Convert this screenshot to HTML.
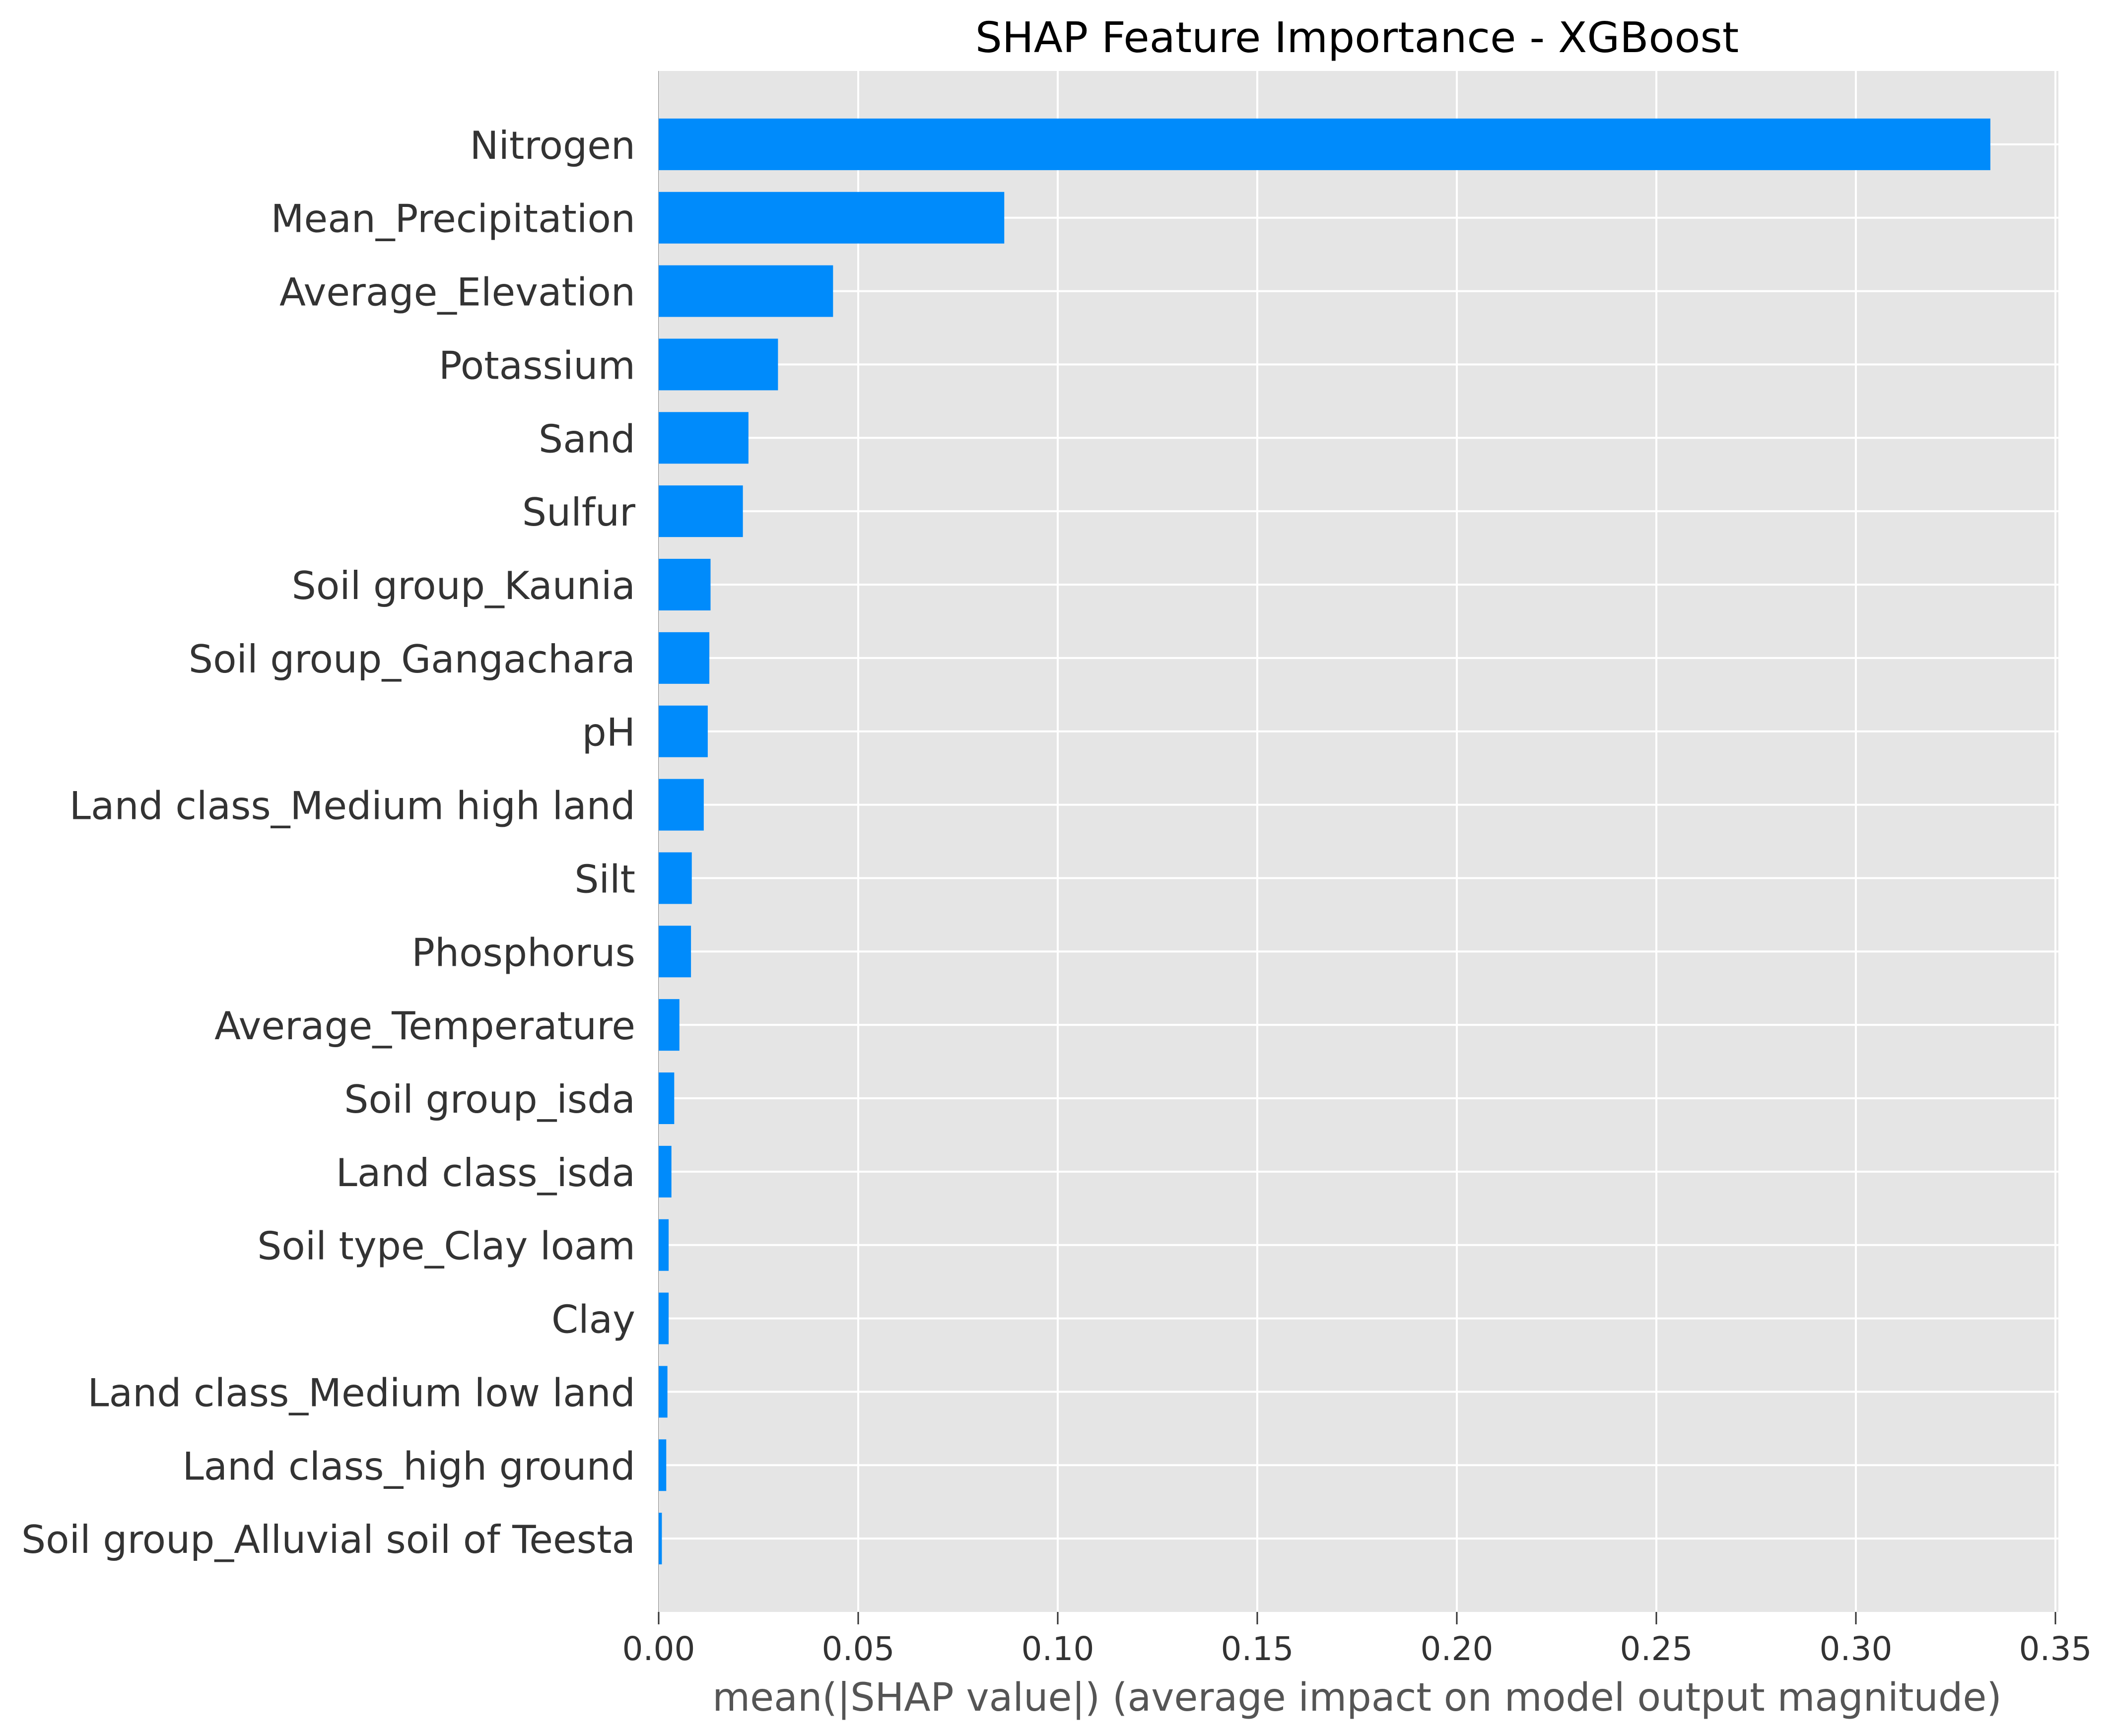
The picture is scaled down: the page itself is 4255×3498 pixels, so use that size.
<!DOCTYPE html>
<html><head><meta charset="utf-8"><style>
html,body{margin:0;padding:0;background:#fff;}
svg{display:block;}
text{font-family:"DejaVu Sans","Liberation Sans",sans-serif;}
</style></head><body>
<svg id="chart" width="4255" height="3498" viewBox="0 0 4255 3498" xmlns="http://www.w3.org/2000/svg">
<text x="2734" y="105" font-size="85" text-anchor="middle" fill="#000">SHAP Feature Importance - XGBoost</text>
<g id="plot"></g>
<text x="2734" y="3447" font-size="78" text-anchor="middle" fill="#555">mean(|SHAP value|) (average impact on model output magnitude)</text>
</svg>
<script>
const features = ["Nitrogen","Mean_Precipitation","Average_Elevation","Potassium","Sand","Sulfur","Soil group_Kaunia","Soil group_Gangachara","pH","Land class_Medium high land","Silt","Phosphorus","Average_Temperature","Soil group_isda","Land class_isda","Soil type_Clay loam","Clay","Land class_Medium low land","Land class_high ground","Soil group_Alluvial soil of Teesta"];
const shapValues = [0.3337,0.0866,0.0437,0.0299,0.0225,0.0211,0.0130,0.0127,0.0123,0.0113,0.0083,0.0081,0.0052,0.0039,0.0032,0.0025,0.0025,0.0022,0.0019,0.0008];
const xTicks = [0,0.05,0.10,0.15,0.20,0.25,0.30,0.35];
const xTickLabels = ["0.00","0.05","0.10","0.15","0.20","0.25","0.30","0.35"];

const NS = "http://www.w3.org/2000/svg";
const L = 1327, R = 4141, T = 143, B = 3248;
const xMax = 0.35;
const n = features.length;
const rowH = (B - T) / (n + 1);
const xScale = v => L + v / xMax * (R - L);
const yScale = i => T + rowH * (i + 1);
const g = document.getElementById('plot');
function mk(tag, attrs){const e=document.createElementNS(NS,tag);for(const k in attrs)e.setAttribute(k,attrs[k]);g.appendChild(e);return e;}

const bg = mk('rect',{x:L,y:T,width:R-L+6,height:B-T,fill:'#e5e5e5'});



xTicks.forEach((t,i)=>{
  const x = xScale(t);
  const gl = mk('line',{x1:x,x2:x,y1:T,y2:B,stroke:'#fff','stroke-width':4});
  
  
  const tk = mk('line',{x1:x,x2:x,y1:B,y2:B+25,stroke:'#333','stroke-width':3});
  
  
  const tl = mk('text',{x:x,y:3345,'font-size':66,'text-anchor':'middle',fill:'#333'});
  tl.textContent = xTickLabels[i];
  
  
});
features.forEach((f,i)=>{
  const y = yScale(i);
  const hl = mk('line',{x1:L,x2:R+6,y1:y,y2:y,stroke:'#fff','stroke-width':4});
  
  
});
const spine = mk('line',{x1:L,x2:L,y1:T,y2:B,stroke:'#b0b0b0','stroke-width':2});



features.forEach((f,i)=>{
  const y = yScale(i);
  const bh = 104;
  const bar = mk('rect',{x:L,y:y-bh/2,width:Math.max(0,xScale(shapValues[i])-L),height:bh,fill:'#008bfb'});
  
  
  const lab = mk('text',{x:1280,y:y+29,'font-size':77.5,'text-anchor':'end',fill:'#333'});
  lab.textContent = f;
  
  
});
</script>
</body></html>
